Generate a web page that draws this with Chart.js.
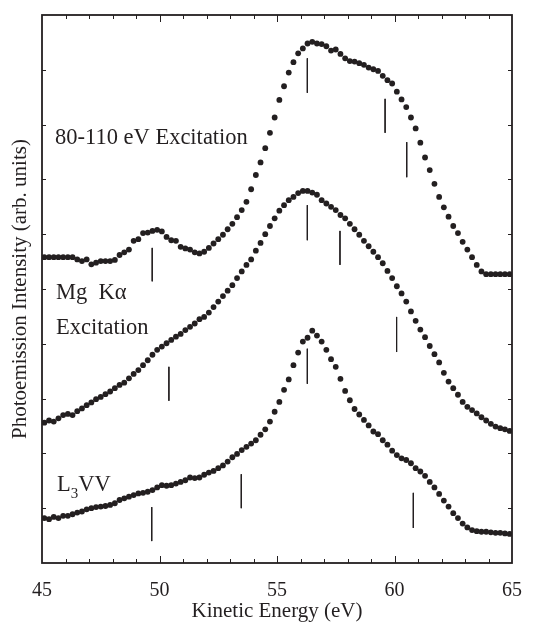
<!DOCTYPE html>
<html>
<head>
<meta charset="utf-8">
<script src="https://cdn.jsdelivr.net/npm/chart.js@4"></script>
<style>
  body { margin: 0; background: #fff; }
  #wrap { width: 543px; height: 624px; }
</style>
</head>
<body>
<div id="wrap"><canvas id="myChart"></canvas></div>
<script>
// kinetic energy grid (eV)
const energy = [
  45.1, 45.3, 45.5, 45.7, 45.9, 46.1, 46.3, 46.5, 46.7, 46.9,
  47.1, 47.3, 47.5, 47.7, 47.9, 48.1, 48.3, 48.5, 48.7, 48.9,
  49.1, 49.3, 49.5, 49.7, 49.9, 50.1, 50.3, 50.5, 50.7, 50.9,
  51.1, 51.3, 51.5, 51.7, 51.9, 52.1, 52.3, 52.5, 52.7, 52.9,
  53.1, 53.3, 53.5, 53.7, 53.9, 54.1, 54.3, 54.5, 54.7, 54.9,
  55.1, 55.3, 55.5, 55.7, 55.9, 56.1, 56.3, 56.5, 56.7, 56.9,
  57.1, 57.3, 57.5, 57.7, 57.9, 58.1, 58.3, 58.5, 58.7, 58.9,
  59.1, 59.3, 59.5, 59.7, 59.9, 60.1, 60.3, 60.5, 60.7, 60.9,
  61.1, 61.3, 61.5, 61.7, 61.9, 62.1, 62.3, 62.5, 62.7, 62.9,
  63.1, 63.3, 63.5, 63.7, 63.9, 64.1, 64.3, 64.5, 64.7, 64.9,
];

// 80-110 eV excitation (offset)
const synchrotron = [
  5.58, 5.58, 5.58, 5.58, 5.58, 5.58, 5.58, 5.54, 5.51, 5.54,
  5.45, 5.48, 5.51, 5.51, 5.51, 5.53, 5.62, 5.67, 5.72, 5.88,
  5.91, 6.02, 6.03, 6.06, 6.08, 6.05, 5.95, 5.89, 5.88, 5.77,
  5.74, 5.72, 5.67, 5.65, 5.68, 5.75, 5.83, 5.91, 5.99, 6.09,
  6.19, 6.31, 6.44, 6.59, 6.82, 7.08, 7.31, 7.57, 7.85, 8.13,
  8.45, 8.70, 8.95, 9.14, 9.30, 9.39, 9.48, 9.51, 9.48, 9.47,
  9.43, 9.35, 9.37, 9.29, 9.21, 9.16, 9.15, 9.12, 9.09, 9.04,
  9.01, 8.98, 8.89, 8.81, 8.75, 8.60, 8.46, 8.32, 8.13, 7.93,
  7.67, 7.40, 7.17, 6.92, 6.68, 6.49, 6.32, 6.15, 6.02, 5.86,
  5.72, 5.58, 5.44, 5.32, 5.27, 5.27, 5.27, 5.27, 5.27, 5.27,
];

// Mg K-alpha excitation (offset)
const mgKalpha = [
  2.56, 2.60, 2.58, 2.64, 2.70, 2.72, 2.70, 2.77, 2.82, 2.88,
  2.93, 2.99, 3.03, 3.08, 3.13, 3.19, 3.25, 3.29, 3.37, 3.45,
  3.52, 3.61, 3.70, 3.80, 3.89, 3.95, 4.01, 4.07, 4.13, 4.18,
  4.25, 4.31, 4.37, 4.45, 4.49, 4.57, 4.67, 4.77, 4.87, 4.97,
  5.07, 5.20, 5.32, 5.44, 5.54, 5.70, 5.84, 6.00, 6.15, 6.29,
  6.43, 6.53, 6.62, 6.68, 6.75, 6.79, 6.79, 6.76, 6.72, 6.62,
  6.56, 6.50, 6.44, 6.35, 6.29, 6.19, 6.09, 5.99, 5.88, 5.78,
  5.68, 5.58, 5.47, 5.33, 5.20, 5.05, 4.92, 4.77, 4.59, 4.42,
  4.26, 4.12, 3.96, 3.81, 3.66, 3.47, 3.31, 3.19, 3.07, 2.94,
  2.85, 2.79, 2.73, 2.66, 2.60, 2.54, 2.49, 2.46, 2.44, 2.41,
];

// L3VV reference spectrum
const l3vv = [
  0.82, 0.80, 0.84, 0.82, 0.86, 0.86, 0.89, 0.92, 0.94, 0.98,
  1.00, 1.02, 1.03, 1.04, 1.06, 1.09, 1.15, 1.18, 1.21, 1.24,
  1.27, 1.28, 1.30, 1.33, 1.38, 1.42, 1.41, 1.42, 1.45, 1.48,
  1.51, 1.56, 1.55, 1.56, 1.61, 1.65, 1.68, 1.73, 1.78, 1.85,
  1.93, 1.99, 2.06, 2.12, 2.18, 2.24, 2.34, 2.44, 2.58, 2.76,
  2.94, 3.16, 3.35, 3.61, 3.84, 4.04, 4.11, 4.24, 4.15, 4.04,
  3.89, 3.72, 3.58, 3.36, 3.14, 2.97, 2.81, 2.71, 2.61, 2.51,
  2.40, 2.35, 2.24, 2.16, 2.05, 1.97, 1.91, 1.88, 1.82, 1.73,
  1.67, 1.59, 1.48, 1.38, 1.26, 1.14, 1.03, 0.91, 0.82, 0.72,
  0.65, 0.60, 0.58, 0.57, 0.57, 0.56, 0.55, 0.55, 0.54, 0.53,
];

// feature markers: energy, upper end, lower end
const synchMarkE = [49.69, 56.29, 59.60, 60.52];
const synchMarkHi = [5.75, 9.21, 8.47, 7.68];
const synchMarkLo = [5.14, 8.58, 7.85, 7.04];

const mgMarkE = [56.29, 57.68, 50.40, 60.09];
const mgMarkHi = [6.53, 6.06, 3.58, 4.49];
const mgMarkLo = [5.89, 5.44, 2.96, 3.85];

const l3MarkE = [49.67, 53.48, 56.29, 60.80];
const l3MarkHi = [1.02, 1.62, 3.91, 1.28];
const l3MarkLo = [0.40, 1.00, 3.27, 0.64];

const xTicks = [45, 50, 55, 60, 65];

const ink = '#231f20';
const serif = "'Liberation Serif', 'Times New Roman', serif";

function spectrum(values) {
  return {
    data: energy.map((e, i) => ({ x: e, y: values[i] })),
    showLine: false,
    pointRadius: 2.9,
    pointBorderWidth: 0,
    pointBackgroundColor: ink,
  };
}

const markers = [];
function addMarkers(es, hi, lo) {
  es.forEach((e, i) => {
    markers.push({
      data: [{ x: e, y: hi[i] }, { x: e, y: lo[i] }],
      showLine: true,
      borderColor: ink,
      borderWidth: 1,
      pointRadius: 0,
    });
  });
}
addMarkers(synchMarkE, synchMarkHi, synchMarkLo);
addMarkers(mgMarkE, mgMarkHi, mgMarkLo);
addMarkers(l3MarkE, l3MarkHi, l3MarkLo);

// box, inward ticks and the text annotations
const decorations = {
  id: 'decorations',
  afterDraw(chart) {
    const { ctx, chartArea: a, scales: { x, y } } = chart;
    ctx.save();
    ctx.strokeStyle = ink;
    ctx.lineWidth = 1.8;
    ctx.strokeRect(a.left, a.top, a.right - a.left, a.bottom - a.top);

    ctx.lineWidth = 1;
    ctx.beginPath();
    for (let e = 46; e < 65; e++) {
      const px = Math.round(x.getPixelForValue(e)) + 0.5;
      const len = e % 5 === 0 ? 7 : 4;
      ctx.moveTo(px, a.bottom); ctx.lineTo(px, a.bottom - len);
      ctx.moveTo(px, a.top); ctx.lineTo(px, a.top + len);
    }
    for (let v = 1; v < 10; v++) {
      const py = Math.round(y.getPixelForValue(v)) + 0.5;
      ctx.moveTo(a.left, py); ctx.lineTo(a.left + 4, py);
      ctx.moveTo(a.right, py); ctx.lineTo(a.right - 4, py);
    }
    ctx.stroke();

    ctx.fillStyle = ink;
    ctx.textBaseline = 'alphabetic';
    ctx.font = '22.5px ' + serif;
    ctx.fillText('80-110 eV Excitation', 55, 144);
    ctx.fillText('Mg  K\u03b1', 56, 299);
    ctx.fillText('Excitation', 56, 334);
    ctx.fillText('L', 57, 491);
    const lw = ctx.measureText('L').width;
    ctx.font = '15px ' + serif;
    ctx.fillText('3', 57 + lw, 498);
    const sw = ctx.measureText('3').width;
    ctx.font = '22.5px ' + serif;
    ctx.fillText('VV', 57 + lw + sw, 491);

    // axis titles
    ctx.font = '21px ' + serif;
    ctx.textAlign = 'center';
    ctx.fillText('Kinetic Energy (eV)', (a.left + a.right) / 2, 617);
    ctx.translate(26, (a.top + a.bottom) / 2);
    ctx.rotate(-Math.PI / 2);
    ctx.fillText('Photoemission Intensity (arb. units)', 0, 0);
    ctx.restore();
  },
};

const cts = document.querySelector('#myChart').getContext('2d');

const config = {
  type: 'scatter',
  data: {
    datasets: [spectrum(synchrotron), spectrum(mgKalpha), spectrum(l3vv), ...markers],
  },
  options: {
    responsive: true,
    maintainAspectRatio: false,
    animation: false,
    layout: { padding: { left: 42, right: 31, top: 15, bottom: 0 } },
    plugins: { legend: { display: false }, tooltip: { enabled: false } },
    scales: {
      x: {
        type: 'linear',
        min: 45,
        max: 65,
        afterFit: (scale) => { scale.height = 61; },
        afterBuildTicks: (scale) => { scale.ticks = xTicks.map((v) => ({ value: v })); },
        grid: { display: false, drawTicks: false },
        border: { display: false },
        ticks: {
          color: ink,
          padding: 16,
          maxRotation: 0,
          font: { family: serif, size: 20 },
        },
      },
      y: {
        type: 'linear',
        min: 0,
        max: 10,
        display: false,
      },
    },
  },
  plugins: [decorations],
};

const myChart = new Chart(cts, config);
</script>
</body>
</html>
